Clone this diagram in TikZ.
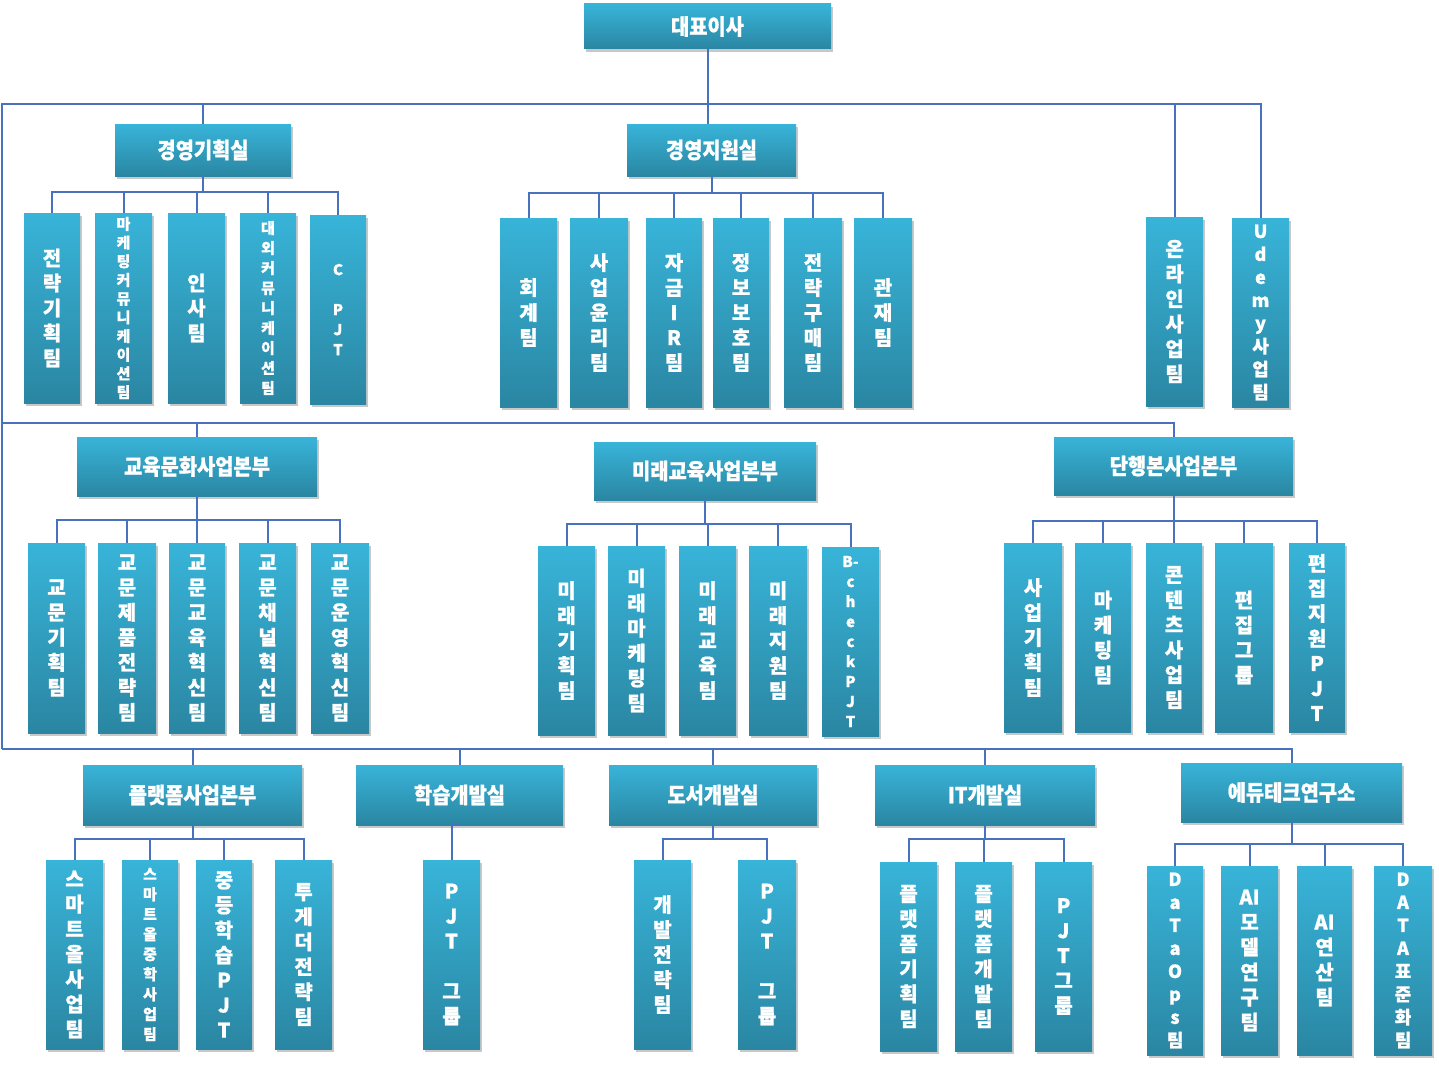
\documentclass[tikz,border=0pt]{standalone}
\usepackage{fontspec}
\setmainfont{Noto Sans CJK KR}[BoldFeatures={FakeBold=0.8}]
\newfontfamily\hdfont{Noto Sans CJK KR}[FakeStretch=0.9, BoldFeatures={FakeBold=1}]
\usetikzlibrary{shadows}
\definecolor{boxtop}{RGB}{56,180,217}
\definecolor{boxbot}{RGB}{42,134,162}
\definecolor{linec}{RGB}{72,114,190}
\tikzset{
  unit/.style={rectangle, inner sep=0pt, top color=boxtop, bottom color=boxbot, draw=none, text=white, align=center,
    drop shadow={shadow xshift=1.5pt, shadow yshift=-3pt, opacity=0.3, fill=black!70}},
  conn/.style={draw=linec, line width=2pt},
  fhd/.style={font=\hdfont\bfseries\fontsize{22}{26}\selectfont},
  fvt/.style={font=\bfseries\fontsize{20}{25}\selectfont},
  fvs/.style={font=\bfseries\fontsize{15}{20}\selectfont},
  fvm/.style={font=\bfseries\fontsize{18}{23}\selectfont},
  fvx/.style={font=\bfseries\fontsize{15}{18.7}\selectfont},
}
\newcommand\bx[7]{%
  \pgfmathsetmacro\bxcx{(#2+#4)/2}%
  \pgfmathsetmacro\bxcy{(#3+#5)/2}%
  \pgfmathsetmacro\bxw{#4-#2}%
  \pgfmathsetmacro\bxh{#5-#3}%
  \node[unit,#6,minimum width=\bxw pt,minimum height=\bxh pt] (#1) at (\bxcx,\bxcy) {#7};}
\begin{document}
\begin{tikzpicture}[x=1pt,y=-1pt]
\fill[white] (0,0) rectangle (1439,1073);
\useasboundingbox (0,0) rectangle (1439,1073);

% ---------- top ----------
\bx{ceo}{584}{4}{831}{49}{fhd}{대표이사}
\bx{gh}{115}{124}{291}{176}{fhd}{경영기획실}
\bx{gj}{627}{124}{796}{176}{fhd}{경영지원실}

\bx{a1}{24}{213}{80}{403}{fvt}{전\\략\\기\\획\\팀}
\bx{a2}{95}{213}{152}{403}{fvx}{마\\케\\팅\\커\\뮤\\니\\케\\이\\션\\팀}
\bx{a3}{168}{213}{225}{403}{fvt}{인\\사\\팀}
\bx{a4}{240}{213}{296}{403}{fvs}{대\\외\\커\\뮤\\니\\케\\이\\션\\팀}
\bx{a5}{310}{215}{366}{404}{fvs}{C\\\mbox{}\\P\\J\\T}

\bx{b1}{500}{218}{557}{407}{fvt}{회\\계\\팀}
\bx{b2}{570}{218}{628}{407}{fvt}{사\\업\\윤\\리\\팀}
\bx{b3}{646}{218}{702}{407}{fvt}{자\\금\\I\\R\\팀}
\bx{b4}{713}{218}{769}{407}{fvt}{정\\보\\보\\호\\팀}
\bx{b5}{784}{218}{842}{407}{fvt}{전\\략\\구\\매\\팀}
\bx{b6}{854}{218}{912}{407}{fvt}{관\\재\\팀}

\bx{on}{1146}{217}{1203}{406}{fvt}{온\\라\\인\\사\\업\\팀}
\bx{ud}{1232}{218}{1289}{407}{fvm}{U\\d\\e\\m\\y\\사\\업\\팀}

% ---------- middle ----------
\bx{ec}{77}{437}{317}{496}{fhd}{교육문화사업본부}
\bx{mr}{594}{442}{816}{500}{fhd}{미래교육사업본부}
\bx{dh}{1054}{437}{1293}{495}{fhd}{단행본사업본부}

\bx{c1}{28}{543}{85}{733}{fvt}{교\\문\\기\\획\\팀}
\bx{c2}{98}{543}{156}{733}{fvt}{교\\문\\제\\품\\전\\략\\팀}
\bx{c3}{169}{543}{225}{733}{fvt}{교\\문\\교\\육\\혁\\신\\팀}
\bx{c4}{239}{543}{296}{733}{fvt}{교\\문\\채\\널\\혁\\신\\팀}
\bx{c5}{311}{543}{369}{733}{fvt}{교\\문\\운\\영\\혁\\신\\팀}

\bx{d1}{538}{546}{595}{735}{fvt}{미\\래\\기\\획\\팀}
\bx{d2}{608}{546}{665}{735}{fvt}{미\\래\\마\\케\\팅\\팀}
\bx{d3}{679}{546}{736}{735}{fvt}{미\\래\\교\\육\\팀}
\bx{d4}{749}{546}{807}{735}{fvt}{미\\래\\지\\원\\팀}
\bx{d5}{822}{547}{879}{736}{fvs}{B-\\c\\h\\e\\c\\k\\P\\J\\T}

\bx{e1}{1004}{543}{1062}{732}{fvt}{사\\업\\기\\획\\팀}
\bx{e2}{1075}{543}{1131}{732}{fvt}{마\\케\\팅\\팀}
\bx{e3}{1146}{543}{1202}{732}{fvt}{콘\\텐\\츠\\사\\업\\팀}
\bx{e4}{1215}{543}{1273}{732}{fvt}{편\\집\\그\\룹}
\bx{e5}{1289}{543}{1345}{732}{fvt}{편\\집\\지\\원\\P\\J\\T}

% ---------- bottom ----------
\bx{pf}{83}{765}{302}{825}{fhd}{플랫폼사업본부}
\bx{hs}{356}{765}{563}{825}{fhd}{학습개발실}
\bx{ds}{609}{765}{817}{825}{fhd}{도서개발실}
\bx{it}{875}{765}{1095}{825}{fhd}{IT개발실}
\bx{et}{1181}{763}{1402}{822}{fhd}{에듀테크연구소}

\bx{f1}{46}{860}{103}{1049}{fvt}{스\\마\\트\\올\\사\\업\\팀}
\bx{f2}{122}{860}{178}{1049}{fvs}{스\\마\\트\\올\\중\\학\\사\\업\\팀}
\bx{f3}{196}{860}{252}{1049}{fvt}{중\\등\\학\\습\\P\\J\\T}
\bx{f4}{275}{860}{332}{1049}{fvt}{투\\게\\더\\전\\략\\팀}

\bx{g1}{423}{860}{480}{1049}{fvt}{P\\J\\T\\\mbox{}\\그\\룹}

\bx{h1}{634}{860}{691}{1049}{fvt}{개\\발\\전\\략\\팀}
\bx{h2}{738}{860}{796}{1049}{fvt}{P\\J\\T\\\mbox{}\\그\\룹}

\bx{i1}{880}{862}{937}{1051}{fvt}{플\\랫\\폼\\기\\획\\팀}
\bx{i2}{955}{862}{1012}{1051}{fvt}{플\\랫\\폼\\개\\발\\팀}
\bx{i3}{1035}{862}{1092}{1051}{fvt}{P\\J\\T\\그\\룹}

\bx{j1}{1147}{866}{1203}{1055}{fvm}{D\\a\\T\\a\\O\\p\\s\\팀}
\bx{j2}{1221}{866}{1278}{1055}{fvt}{AI\\모\\델\\연\\구\\팀}
\bx{j3}{1297}{866}{1352}{1055}{fvt}{AI\\연\\산\\팀}
\bx{j4}{1374}{866}{1432}{1055}{fvm}{D\\A\\T\\A\\표\\준\\화\\팀}

% ---------- spine ----------
\coordinate (L1) at (2,104);
\coordinate (L2) at (2,423);
\coordinate (L3) at (2,749);
\draw[conn] (ceo.south) -- (ceo.south |- L1);
\draw[conn] (ceo.south |- L1) -- (ceo.south |- gj.north);
\draw[conn] (L3) -- (L1) -- (ud.north |- L1) -- (ud.north);
\draw[conn] (gh.north |- L1) -- (gh.north);
\draw[conn] (on.north |- L1) -- (on.north);
\draw[conn] (L2) -- (dh.north |- L2) -- (dh.north);
\draw[conn] (ec.north |- L2) -- (ec.north);
\draw[conn] (L3) -- (et.north |- L3) -- (et.north);
\foreach \n in {pf,hs,ds,it} \draw[conn] (\n.north |- L3) -- (\n.north);

% ---------- buses ----------
\coordinate (bA) at (0,192);
\draw[conn] (gh.south) -- (gh.south |- bA);
\draw[conn] (a1.north) |- (a5.north |- bA) -- (a5.north);
\foreach \n in {a2,a3,a4} \draw[conn] (\n.north) -- (\n.north |- bA);

\coordinate (bB) at (0,193);
\draw[conn] (gj.south) -- (gj.south |- bB);
\draw[conn] (b1.north) |- (b6.north |- bB) -- (b6.north);
\foreach \n in {b2,b3,b4,b5} \draw[conn] (\n.north) -- (\n.north |- bB);

\coordinate (bC) at (0,520);
\draw[conn] (ec.south) -- (ec.south |- bC);
\draw[conn] (c1.north) |- (c5.north |- bC) -- (c5.north);
\foreach \n in {c2,c3,c4} \draw[conn] (\n.north) -- (\n.north |- bC);

\coordinate (bD) at (0,524);
\draw[conn] (mr.south) -- (mr.south |- bD);
\draw[conn] (d1.north) |- (d5.north |- bD) -- (d5.north);
\foreach \n in {d2,d3,d4} \draw[conn] (\n.north) -- (\n.north |- bD);

\coordinate (bE) at (0,521);
\draw[conn] (dh.south) -- (dh.south |- bE);
\draw[conn] (e1.north) |- (e5.north |- bE) -- (e5.north);
\foreach \n in {e2,e3,e4} \draw[conn] (\n.north) -- (\n.north |- bE);

\coordinate (bF) at (0,839);
\draw[conn] (pf.south) -- (pf.south |- bF);
\draw[conn] (f1.north) |- (f4.north |- bF) -- (f4.north);
\foreach \n in {f2,f3} \draw[conn] (\n.north) -- (\n.north |- bF);

\draw[conn] (hs.south) -- (hs.south -| g1.north) -- (g1.north);

\draw[conn] (ds.south) -- (ds.south |- bF);
\draw[conn] (h1.north) |- (h2.north |- bF) -- (h2.north);

\draw[conn] (it.south) -- (it.south |- bF);
\draw[conn] (i1.north) |- (i3.north |- bF) -- (i3.north);
\draw[conn] (i2.north) -- (i2.north |- bF);

\coordinate (bG) at (0,844);
\draw[conn] (et.south) -- (et.south |- bG);
\draw[conn] (j1.north) |- (j4.north |- bG) -- (j4.north);
\foreach \n in {j2,j3} \draw[conn] (\n.north) -- (\n.north |- bG);
\end{tikzpicture}
\end{document}
